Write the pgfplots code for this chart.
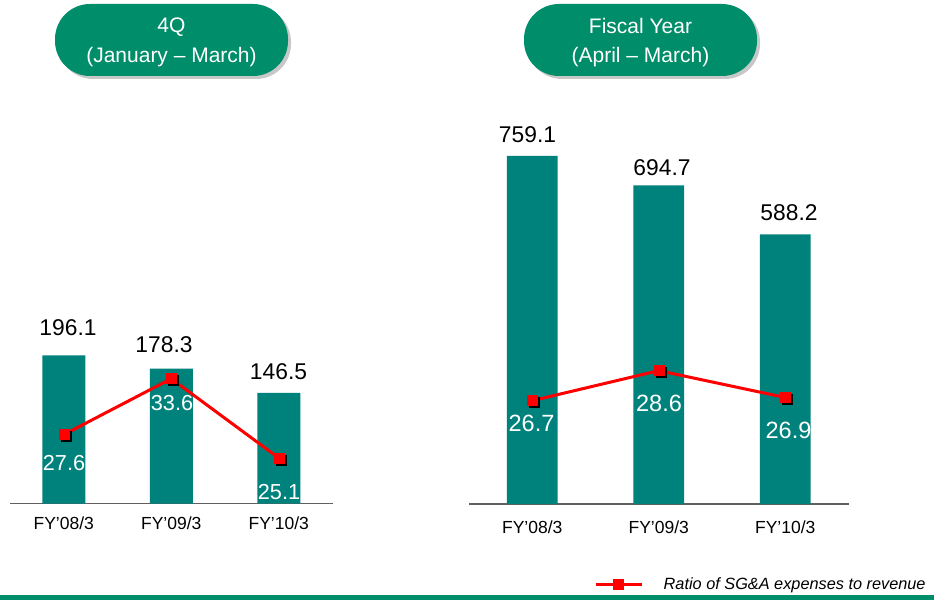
\documentclass[border=0pt]{standalone}
\usepackage{pgfplots}
\pgfplotsset{compat=1.18}
\usepackage{fontspec}
\setmainfont{Liberation Sans}
\definecolor{hdrgreen}{RGB}{0,142,106}
\definecolor{barteal}{RGB}{0,130,124}
\definecolor{axgray}{RGB}{96,96,96}
\definecolor{shadowgray}{RGB}{200,200,200}
\pgfplotsset{
  baraxis/.style={
    scale only axis, anchor=south west,
    xmin=-0.5, xmax=2.5, ymin=0,
    axis x line*=bottom, axis y line=none,
    x axis line style={axgray, line width=1.3pt, -},
    xtick={0,1,2}, major tick length=0pt,
    xticklabels={FY’08/3,FY’09/3,FY’10/3},
    xticklabel style={font=\fontsize{17.5}{20}\selectfont, text=black, anchor=north, inner sep=0pt},
    ytick=\empty, clip=false,
  },
  ratioaxis/.style={
    scale only axis, anchor=south west, xmin=-0.5, xmax=2.5, hide axis, clip=false,
  },
}
\begin{document}
\begin{tikzpicture}
\useasboundingbox (0pt,0pt) rectangle (934pt,600pt);
% header boxes
\fill[shadowgray,rounded corners=35pt] (58pt,521pt) rectangle (291pt,593pt);
\fill[hdrgreen,rounded corners=35pt] (55pt,524pt) rectangle (288pt,596pt);
\node[white,font=\fontsize{21}{25}\selectfont] at (171.5pt,573pt) {4Q};
\node[white,font=\fontsize{21}{25}\selectfont] at (171.5pt,543pt) {(January – March)};
\fill[shadowgray,rounded corners=35pt] (527pt,521pt) rectangle (760pt,593pt);
\fill[hdrgreen,rounded corners=35pt] (524pt,524pt) rectangle (757pt,596pt);
\node[white,font=\fontsize{21}{25}\selectfont] at (640.5pt,574pt) {Fiscal Year};
\node[white,font=\fontsize{21}{25}\selectfont] at (640.5pt,543pt) {(April – March)};
% bottom rule
\fill[hdrgreen] (0pt,0pt) rectangle (934pt,5pt);

% left panel bars
\begin{axis}[baraxis, at={(10pt,96.3pt)}, x=107.5pt, y=0.757pt, ymax=260,
  xticklabel style={yshift=-13pt}]
\addplot[ybar, bar width=0.4, fill=barteal, draw=none] coordinates {(0,196.1) (1,178.3) (2,146.5)};
\end{axis}
% left panel ratio
\begin{axis}[ratioaxis, at={(10pt,96.3pt)}, x=107.5pt, y=9.33pt, ymin=20.2, ymax=36]
\addplot[black, only marks, mark=square*, mark size=5pt, mark options={line width=0.5pt, xshift=2pt, yshift=-2pt}] coordinates {(0,27.6) (1,33.6) (2,25.1)};
\addplot[red, line width=3pt, mark=square*, mark size=5pt, mark options={solid, line width=0.5pt, fill=red}] coordinates {(0,27.6) (1,33.6) (2,25.1)};
\end{axis}

% right panel bars
\begin{axis}[baraxis, at={(469pt,96pt)}, x=126.5pt, y=0.4585pt, ymax=900,
  xticklabel style={yshift=-17pt}]
\addplot[ybar, bar width=0.4, fill=barteal, draw=none] coordinates {(0,759.1) (1,694.7) (2,588.2)};
\end{axis}
% right panel ratio + legend
\begin{axis}[ratioaxis, at={(469pt,96pt)}, x=126.5pt, y=15.8pt, ymin=20.16, ymax=30,
  legend style={at={(axis description cs:0.3294,-0.5146)}, anchor=west, draw=none, fill=none,
    inner sep=0pt, nodes={inner sep=0pt}, font=\fontsize{16.3}{19}\selectfont\itshape},
  legend image code/.code={\draw[mark repeat=2,mark phase=2] plot coordinates {(0pt,0pt) (23pt,0pt) (46pt,0pt)}; \path[draw=none] (46pt,0pt) -- (68pt,0pt);}]
\addplot[black, only marks, mark=square*, mark size=5pt, mark options={line width=0.5pt, xshift=2pt, yshift=-2pt}, forget plot] coordinates {(0,26.7) (1,28.6) (2,26.9)};
\addplot[red, line width=3pt, mark=square*, mark size=5pt, mark options={solid, line width=0.5pt, fill=red}] coordinates {(0,26.7) (1,28.6) (2,26.9)};
\addlegendentry{Ratio of SG\&A expenses to revenue}
\end{axis}

% bar value labels
\begin{scope}[font=\fontsize{22.8}{26}\selectfont]
\node at (68pt,272pt) {196.1};
\node at (164pt,255pt) {178.3};
\node at (278.5pt,228pt) {146.5};
\node at (527.5pt,465pt) {759.1};
\node at (662pt,432pt) {694.7};
\node at (789pt,387pt) {588.2};
\end{scope}
% ratio value labels
\begin{scope}[white,font=\fontsize{21.7}{25}\selectfont]
\node at (64pt,137.3pt) {27.6};
\node at (172pt,197pt) {33.6};
\node at (279pt,108.3pt) {25.1};
\end{scope}
\begin{scope}[white,font=\fontsize{23.5}{27}\selectfont]
\node at (531.5pt,177pt) {26.7};
\node at (659pt,197pt) {28.6};
\node at (788.5pt,170pt) {26.9};
\end{scope}
\end{tikzpicture}
\end{document}
